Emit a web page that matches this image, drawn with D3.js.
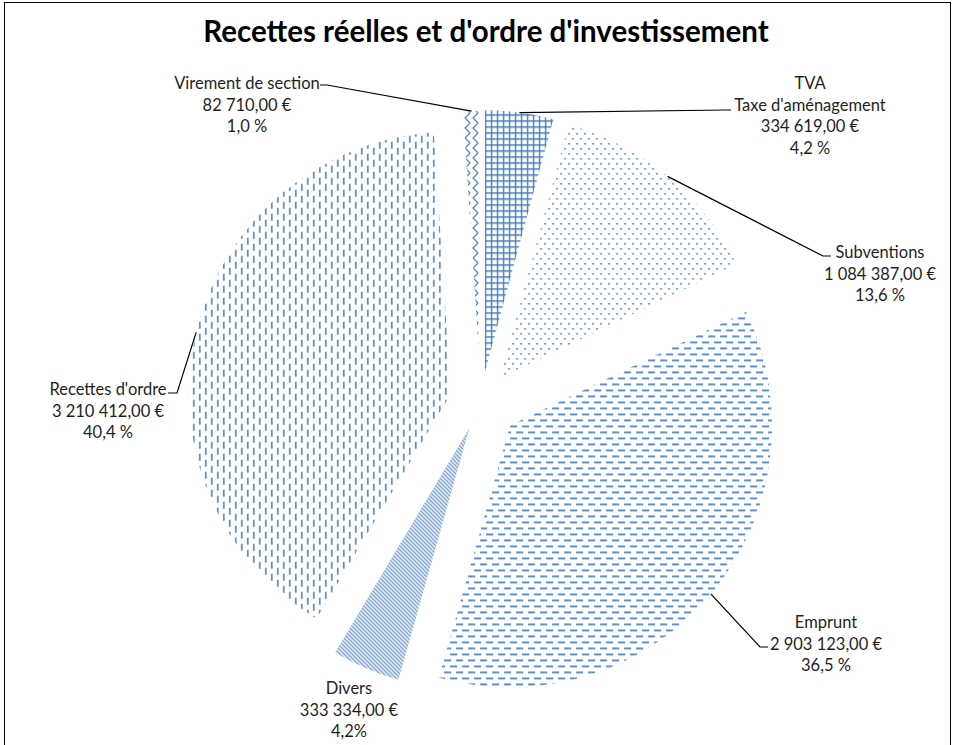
<!DOCTYPE html>
<html>
<head>
<meta charset="utf-8">
<script src="https://cdn.jsdelivr.net/npm/d3@7"></script>
<style>
  body { margin: 0; background: #fff; }
  svg { display: block; }
  .lbl { font-family: Lato, "Open Sans", sans-serif; font-size: 16.5px; fill: #1f1f1f; text-anchor: middle; }
  .title { font-family: Lato, "Open Sans", sans-serif; font-size: 29.5px; font-weight: bold; fill: #000; text-anchor: middle; }
</style>
</head>
<body>
<svg id="chart"></svg>
<script>
// data (clockwise from 12 o'clock)
const categories = [["TVA", "Taxe d'aménagement"], ["Subventions"], ["Emprunt"], ["Divers"], ["Recettes d'ordre"], ["Virement de section"]];
const amounts = [334619, 1084387, 2903123, 333334, 3210412, 82710];
const amountLabels = ["334 619,00 €", "1 084 387,00 €", "2 903 123,00 €", "333 334,00 €", "3 210 412,00 €", "82 710,00 €"];
const percentLabels = ["4,2 %", "13,6 %", "36,5 %", "4,2%", "40,4 %", "1,0 %"];

// layout / style
const patterns = ["grid", "dots", "hdash", "diag", "vdash", "zigzag"];
const explode = [29, 30, 38, 29, 31, 28];
const labelPos = [[810, 89], [880, 258], [826, 628], [349, 694], [108, 395], [247, 89]];
// leader: elbow x, elbow y, end x (null = no leader)
const leaders = [[726, 110, 731], [823, 256, 831], [760, 647, 768], null, [177, 393, 168], [327, 85, 320]];

const W = 955, H = 745;
const cx = 481, cy = 401, R = 262;
const blue = "#4a7ebb";

const svg = d3.select("#chart").attr("width", W).attr("height", H);

// frame
svg.append("rect")
  .attr("x", 4.5).attr("y", 2.5)
  .attr("width", 946).attr("height", 760)
  .attr("fill", "none").attr("stroke", "#000").attr("stroke-width", 1);

svg.append("text").attr("class", "title")
  .attr("x", 486).attr("y", 42)
  .text("Recettes réelles et d'ordre d'investissement");

// fill patterns
const defs = svg.append("defs");
function pat(id, w, h) {
  return defs.append("pattern").attr("id", id)
    .attr("patternUnits", "userSpaceOnUse")
    .attr("width", w).attr("height", h);
}
const pg = pat("grid", 6, 6);
pg.append("path").attr("d", "M0,0.7H6M0.7,0V6")
  .attr("stroke", blue).attr("stroke-width", 1.4).attr("fill", "none");

const pd = pat("dots", 8, 10);
pd.append("rect").attr("x", 0).attr("y", 0).attr("width", 1.7).attr("height", 1.7).attr("fill", "#5b8bc9");
pd.append("rect").attr("x", 4).attr("y", 5).attr("width", 1.7).attr("height", 1.7).attr("fill", "#5b8bc9");

const ph = pat("hdash", 12, 12);
[[0, 0, 7], [6, 6, 6], [0, 6, 1]].forEach(r =>
  ph.append("rect").attr("x", r[0]).attr("y", r[1]).attr("width", r[2]).attr("height", 2).attr("fill", "#5f8fcb"));

const pv = pat("vdash", 12, 12);
[[0, 0, 7], [6, 6, 6], [6, 0, 1]].forEach(r =>
  pv.append("rect").attr("x", r[0]).attr("y", r[1]).attr("width", 1.8).attr("height", r[2]).attr("fill", "#5f8fcb"));

const pdg = pat("diag", 4, 4);
pdg.append("path").attr("d", "M-1,-1L5,5M-1,3L1,5M3,-1L5,1")
  .attr("stroke", blue).attr("stroke-width", 1.2).attr("fill", "none");

const pz = pat("zigzag", 8, 10);
pz.append("path").attr("d", "M6,0L1,5L6,10")
  .attr("stroke", blue).attr("stroke-width", 1.2).attr("fill", "none");

// pie
const pie = d3.pie().sort(null).value(d => d)(amounts);
const arc = d3.arc().innerRadius(0).outerRadius(R);

function apex(d, i) {
  const m = (d.startAngle + d.endAngle) / 2;
  return [cx + explode[i] * Math.sin(m), cy - explode[i] * Math.cos(m)];
}

svg.selectAll(".slice")
  .data(pie)
  .enter()
  .append("path")
  .attr("class", "slice")
  .attr("transform", (d, i) => "translate(" + apex(d, i) + ")")
  .attr("d", arc)
  .attr("fill", (d, i) => "url(#" + patterns[i] + ")");

// leader lines
svg.selectAll(".leader")
  .data(pie.filter((d, i) => leaders[i]))
  .enter()
  .append("path")
  .attr("class", "leader")
  .attr("fill", "none").attr("stroke", "#000").attr("stroke-width", 1.2)
  .attr("d", d => {
    const i = d.index, m = (d.startAngle + d.endAngle) / 2;
    const a = apex(d, i);
    const p = [a[0] + R * Math.sin(m), a[1] - R * Math.cos(m)];
    const l = leaders[i];
    return "M" + p + "L" + l[0] + "," + l[1] + "L" + l[2] + "," + l[1];
  });

// labels
const lh = 21.5;
pie.forEach((d, i) => {
  const lines = categories[i].concat([amountLabels[i], percentLabels[i]]);
  const t = svg.append("text").attr("class", "lbl");
  lines.forEach((s, k) => {
    t.append("tspan").attr("x", labelPos[i][0]).attr("y", labelPos[i][1] + k * lh).text(s);
  });
});
</script>
</body>
</html>
